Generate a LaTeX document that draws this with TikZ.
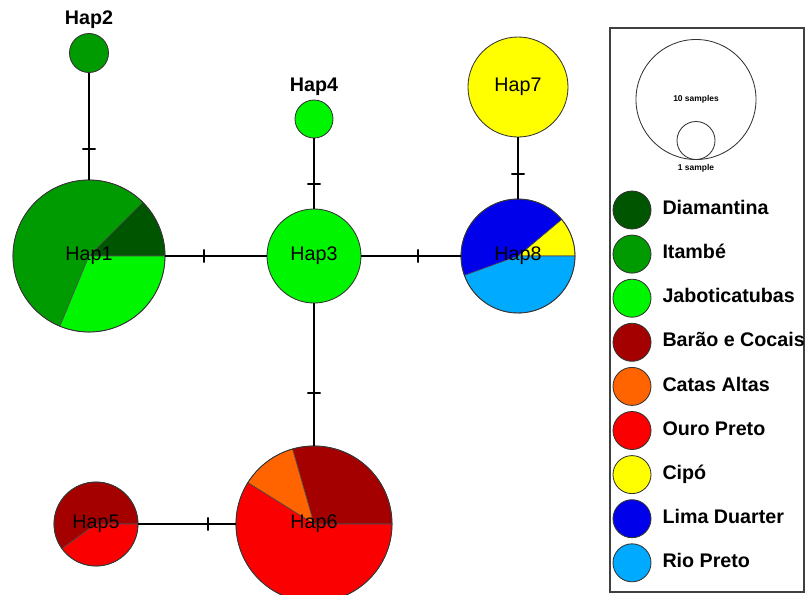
\documentclass[tikz,border=0pt]{standalone}
\usepackage{fontspec}
\setmainfont{Liberation Sans}
\usetikzlibrary{positioning}
\definecolor{hDiam} {RGB}{  0, 85,  0}
\definecolor{hItam} {RGB}{  0,155,  0}
\definecolor{hJabo} {RGB}{  0,245,  0}
\definecolor{hBarao}{RGB}{165,  0,  0}
\definecolor{hCatas}{RGB}{255,100,  0}
\definecolor{hOuro} {RGB}{250,  0,  0}
\definecolor{hCipo} {RGB}{255,255,  0}
\definecolor{hLima} {RGB}{  0,  0,235}
\definecolor{hRio}  {RGB}{  0,170,255}
\begin{document}
\begin{tikzpicture}[x=0.025cm,y=0.025cm,
  hap/.style={circle,draw=black!80,line width=0.6pt,inner sep=0pt,
              minimum size=#1,font=\fontsize{14}{16}\selectfont},
  haptxt/.style={inner sep=0pt,font=\fontsize{14}{16}\selectfont\bfseries},
  edge/.style={line width=1.4pt},
  mut/.style={draw,line width=1.4pt,inner sep=0pt,minimum width=0pt,
              minimum height=0.33cm,sloped},
  slice/.style={draw=black!70,line width=0.4pt}]
\useasboundingbox (0,0) rectangle (805,-594);
\clip (0,0) rectangle (805,-594);
% Haplotype centres (pixel grid of the figure)
\coordinate (c1) at (89,-256);
\coordinate (c2) at (89,-53);
\coordinate (c3) at (314,-256);
\coordinate (c4) at (314,-119);
\coordinate (c5) at (96,-524);
\coordinate (c6) at (314,-524);
\coordinate (c7) at (518,-87);
\coordinate (c8) at (518,-256);
% Pie slices: start/end angle/colour
\foreach \a/\b/\col in {0/45/hDiam, 45/247.5/hItam, 247.5/360/hJabo}
  \filldraw[slice,fill=\col] (c1) -- ++(\a:1.9cm)
    arc[start angle=\a,end angle=\b,radius=1.9cm] -- cycle;
\foreach \a/\b/\col in {0/216/hBarao, 216/360/hOuro}
  \filldraw[slice,fill=\col] (c5) -- ++(\a:1.05cm)
    arc[start angle=\a,end angle=\b,radius=1.05cm] -- cycle;
\foreach \a/\b/\col in {0/106/hBarao, 106/148/hCatas, 148/360/hOuro}
  \filldraw[slice,fill=\col] (c6) -- ++(\a:1.95cm)
    arc[start angle=\a,end angle=\b,radius=1.95cm] -- cycle;
\foreach \a/\b/\col in {0/40/hCipo, 40/200/hLima, 200/360/hRio}
  \filldraw[slice,fill=\col] (c8) -- ++(\a:1.425cm)
    arc[start angle=\a,end angle=\b,radius=1.425cm] -- cycle;
% Haplotypes
\node[hap=3.8cm] (hap1) at (c1) {Hap1};
\node[hap=0.975cm,fill=hItam] (hap2) at (c2) {};
\node[haptxt,above=0.1cm of hap2] (t2) {Hap2};
\node[hap=2.35cm,fill=hJabo] (hap3) at (c3) {Hap3};
\node[hap=0.95cm,fill=hJabo] (hap4) at (c4) {};
\node[haptxt,above=0.1cm of hap4] (t4) {Hap4};
\node[hap=2.1cm] (hap5) at (c5) {Hap5};
\node[hap=3.9cm] (hap6) at (c6) {Hap6};
\node[hap=2.5cm,fill=hCipo] (hap7) at (c7) {Hap7};
\node[hap=2.85cm] (hap8) at (c8) {Hap8};
% Links, one mutation step each
\draw[edge] (hap2) -- node[mut,pos=0.71]{} (hap1);
\draw[edge] (hap1) -- node[mut,pos=0.38]{} (hap3);
\draw[edge] (hap4) -- node[mut,pos=0.65]{} (hap3);
\draw[edge] (hap3) -- node[mut,pos=0.57]{} (hap8);
\draw[edge] (hap7) -- node[mut,pos=0.6]{} (hap8);
\draw[edge] (hap3) -- node[mut,pos=0.63]{} (hap6);
\draw[edge] (hap5) -- node[mut,pos=0.72]{} (hap6);
% Legend
\draw[black!75,line width=0.9pt] (610,-28) rectangle (804,-592);
\node[hap=3cm,font=\fontsize{6}{7}\selectfont\bfseries] (big) at (696,-99.5) {10 samples};
\node[hap=0.95cm] (small) at (696,-140.5) {};
\node[inner sep=0pt,font=\fontsize{6}{7}\selectfont\bfseries,below=0.1cm of small]
  (tsmall) {1 sample};
\foreach \i/\col/\name in {0/hDiam/Diamantina, 1/hItam/Itambé,
   2/hJabo/Jaboticatubas, 3/hBarao/Barão e Cocais, 4/hCatas/Catas Altas,
   5/hOuro/Ouro Preto, 6/hCipo/Cipó, 7/hLima/Lima Duarter, 8/hRio/Rio Preto}{
  \node[hap=0.95cm,fill=\col] (key\i) at (632,-210-44.1*\i) {};
  \node[inner sep=0pt,text height=1.5ex,text depth=0.25ex,
        font=\fontsize{14}{16}\selectfont\bfseries,right=0.27cm of key\i]
    (name\i) {\name};
}
\end{tikzpicture}
\end{document}
